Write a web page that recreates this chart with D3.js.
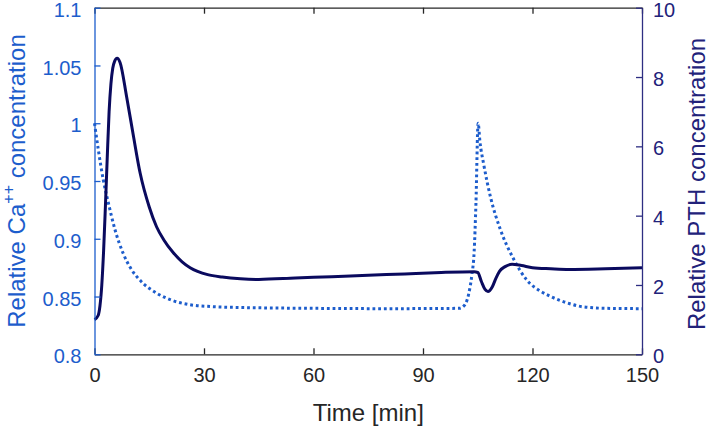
<!DOCTYPE html>
<html>
<head>
<meta charset="utf-8">
<script src="https://cdn.jsdelivr.net/npm/d3@7"></script>
<style>
  html, body { margin: 0; padding: 0; background: #fff; }
  svg { display: block; font-family: "Liberation Sans", Arial, sans-serif; }
</style>
</head>
<body>
<svg id="chart" width="709" height="427"></svg>
<script>
// ---- data ----
const timeTicks = [0, 30, 60, 90, 120, 150];
const caTicks = [0.8, 0.85, 0.9, 0.95, 1, 1.05, 1.1];
const caTickLabels = ["0.8", "0.85", "0.9", "0.95", "1", "1.05", "1.1"];
const pthTicks = [0, 2, 4, 6, 8, 10];

// Relative Ca++ (left axis, dotted)
const caTime = [0, 1, 2.4, 3.8, 5.6, 7.9, 10, 12.5, 17, 21, 26, 31, 40, 60, 80, 100, 101.5, 102.5, 103.4, 104, 104.5, 105.1, 105.6, 106.6, 108.5, 111.2, 114.9, 118.5, 122, 125, 130, 134, 140, 150];
const caValue = [1.0, 0.978, 0.951, 0.931, 0.908, 0.887, 0.874, 0.864, 0.853, 0.847, 0.843, 0.8415, 0.8405, 0.8398, 0.8395, 0.8398, 0.843, 0.852, 0.869, 0.888, 0.93, 1.0, 0.984, 0.965, 0.936, 0.908, 0.882, 0.864, 0.855, 0.85, 0.844, 0.841, 0.8398, 0.8395];

// Relative PTH (right axis, solid)
const pthTime = [0, 1, 1.5, 2, 2.5, 3, 3.5, 4, 4.5, 5, 5.5, 6.2, 7, 8.8, 10.5, 12.5, 15, 17, 19, 21.6, 24, 26.2, 31, 35, 40, 45, 55, 65, 75, 85, 95, 104, 105, 106, 107, 107.8, 109, 110, 111, 112.5, 114.4, 117, 120, 125, 130, 140, 150];
const pthValue = [1.0, 1.12, 1.4, 2.0, 3.0, 4.3, 5.7, 7.0, 7.8, 8.25, 8.45, 8.54, 8.42, 7.43, 6.4, 5.23, 4.25, 3.68, 3.30, 2.93, 2.67, 2.5, 2.3, 2.23, 2.18, 2.16, 2.2, 2.24, 2.28, 2.32, 2.36, 2.38, 2.36, 2.1, 1.87, 1.81, 1.95, 2.2, 2.4, 2.53, 2.6, 2.56, 2.5, 2.47, 2.45, 2.47, 2.5];

// ---- layout ----
const L = 94.5, R = 642, T = 7.7, B = 354.3;
const cBlue = "#1d5dcc", cNavyLine = "#0a0a5e", cNavyAxis = "#2e2e82", cGray = "#262626";

const svg = d3.select("#chart");
const x = d3.scaleLinear().domain([0, 150]).range([L, R]);
const yL = d3.scaleLinear().domain([0.8, 1.1]).range([B, T]);
const yR = d3.scaleLinear().domain([0, 10]).range([B, T]);

// lines
const caData = caTime.map((t, i) => [t, caValue[i]]);
const pthData = pthTime.map((t, i) => [t, pthValue[i]]);

svg.append("path")
  .datum(caData)
  .attr("fill", "none")
  .attr("stroke", cBlue)
  .attr("stroke-width", 3)
  .attr("stroke-dasharray", "2.8,2.9")
  .attr("d", d3.line().x(d => x(d[0])).y(d => yL(d[1])).curve(d3.curveMonotoneX));

svg.append("path")
  .datum(pthData)
  .attr("fill", "none")
  .attr("stroke", cNavyLine)
  .attr("stroke-width", 3)
  .attr("stroke-linejoin", "round")
  .attr("d", d3.line().x(d => x(d[0])).y(d => yR(d[1])).curve(d3.curveMonotoneX));

// axes
function styleAxis(g, color, fontColor) {
  g.select(".domain").attr("stroke", color).attr("stroke-width", 1.3);
  g.selectAll(".tick line").attr("stroke", color).attr("stroke-width", 1.3);
  g.selectAll(".tick text").attr("fill", fontColor).style("font-size", "20px")
    .style("font-family", '"Liberation Sans", Arial, sans-serif');
}

const xBottom = svg.append("g").attr("transform", `translate(0,${B})`)
  .call(d3.axisBottom(x).tickValues(timeTicks).tickSizeInner(-6).tickSizeOuter(0).tickPadding(14).tickFormat(d3.format("d")));
styleAxis(xBottom, cGray, cGray);

const xTop = svg.append("g").attr("transform", `translate(0,${T})`)
  .call(d3.axisTop(x).tickValues(timeTicks).tickSizeInner(-6).tickSizeOuter(0).tickFormat(""));
styleAxis(xTop, cGray, cGray);

const yLeft = svg.append("g").attr("transform", `translate(${L},0)`)
  .call(d3.axisLeft(yL).tickValues(caTicks).tickSizeInner(-6).tickSizeOuter(0).tickPadding(13)
    .tickFormat((d, i) => caTickLabels[i]));
styleAxis(yLeft, cBlue, cBlue);
yLeft.selectAll(".tick text").attr("dy", "0.43em");

const yRight = svg.append("g").attr("transform", `translate(${R},0)`)
  .call(d3.axisRight(yR).tickValues(pthTicks).tickSizeInner(-6).tickSizeOuter(0).tickPadding(11).tickFormat(d3.format("d")));
styleAxis(yRight, cNavyAxis, "#22227a");
yRight.selectAll(".tick text").attr("dy", "0.43em");

// axis labels
svg.append("text")
  .attr("x", (L + R) / 2).attr("y", 421)
  .attr("text-anchor", "middle")
  .attr("fill", cGray)
  .style("font-size", "24px")
  .text("Time [min]");

const leftLabel = svg.append("text")
  .attr("transform", `translate(25,${(T + B) / 2}) rotate(-90)`)
  .attr("text-anchor", "middle")
  .attr("fill", cBlue)
  .style("font-size", "24px");
leftLabel.append("tspan").text("Relative Ca");
leftLabel.append("tspan").attr("dy", -11).style("font-size", "16px").text("++");
leftLabel.append("tspan").attr("dy", 11).text(" concentration");

svg.append("text")
  .attr("transform", `translate(705,${(T + B) / 2 + 3}) rotate(-90)`)
  .attr("text-anchor", "middle")
  .attr("fill", "#22227a")
  .style("font-size", "24px")
  .text("Relative PTH concentration");
</script>
</body>
</html>
